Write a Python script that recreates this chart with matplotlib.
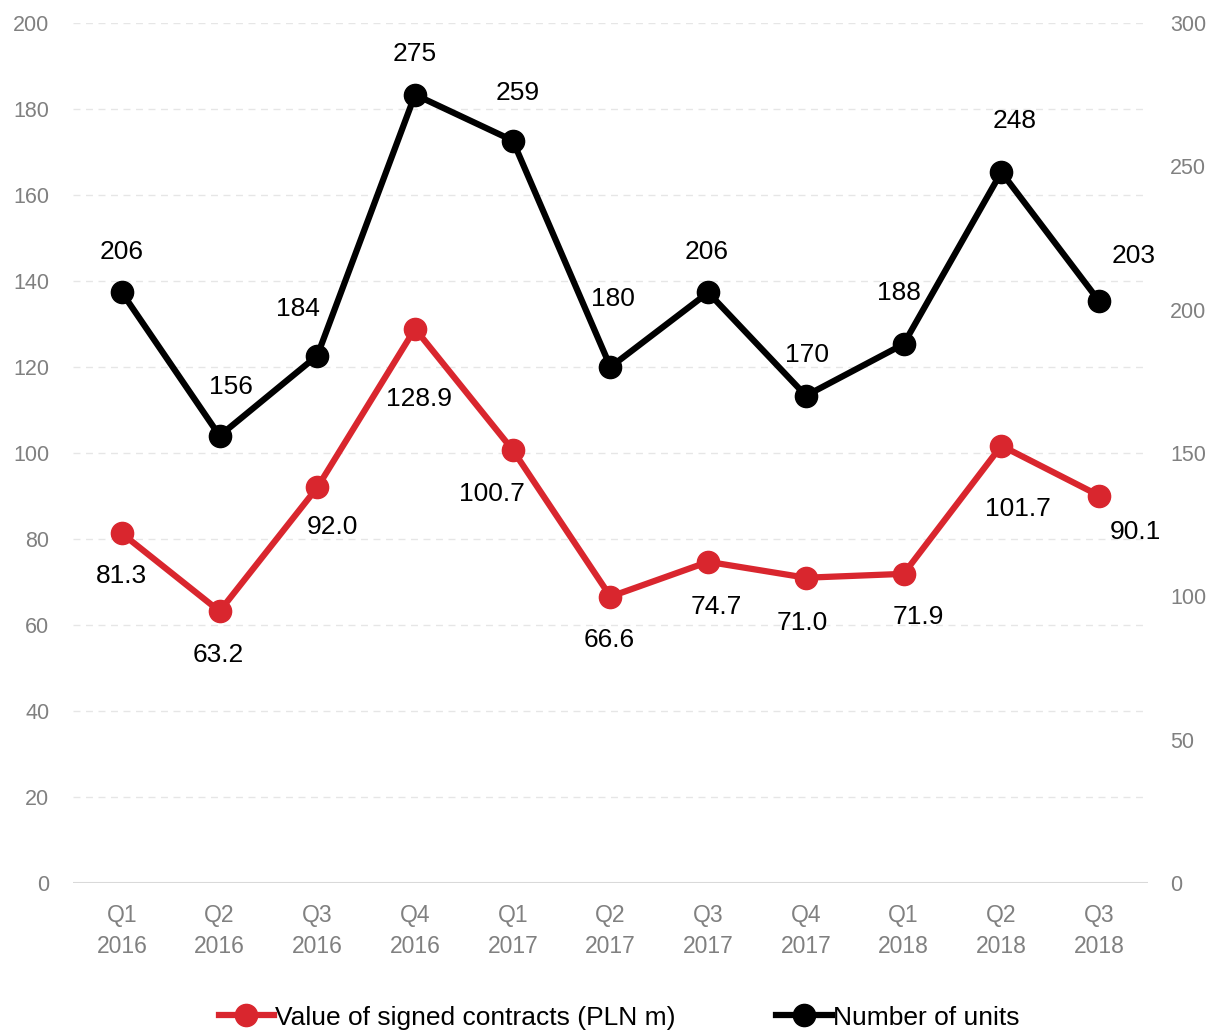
import matplotlib
matplotlib.use('Agg')
import matplotlib.pyplot as plt
from matplotlib.ticker import MultipleLocator

plt.rcParams['font.family'] = ['Liberation Sans', 'DejaVu Sans']

quarters = ['Q1\n2016', 'Q2\n2016', 'Q3\n2016', 'Q4\n2016', 'Q1\n2017', 'Q2\n2017',
            'Q3\n2017', 'Q4\n2017', 'Q1\n2018', 'Q2\n2018', 'Q3\n2018']
contract_value = [81.3, 63.2, 92.0, 128.9, 100.7, 66.6, 74.7, 71.0, 71.9, 101.7, 90.1]
units = [206, 156, 184, 275, 259, 180, 206, 170, 188, 248, 203]

# label offsets in pixels (dx, dy), dy positive = up
units_off = [(0, 40), (11, 49), (-19, 47), (0, 41), (5, 48), (2, 68),
             (-2, 40), (1, 41), (-5, 51), (13, 51), (35, 45)]
value_off = [(0, -43), (-1, -44), (15, -40), (4, -70), (-21, -44), (-1, -43),
             (8, -45), (-4, -45), (15, -43), (17, -63), (36, -36)]

red = '#d9262e'
grey = '#808080'

fig = plt.figure(figsize=(12.09, 10.33), dpi=100)
ax = fig.add_axes([0.0604, 0.1452, 0.8891, 0.8325])
ax2 = ax.twinx()

x = range(len(quarters))
ax.plot(x, contract_value, color=red, lw=4.5, marker='o', ms=16, zorder=3,
        label='Value of signed contracts (PLN m)')
ax2.plot(x, units, color='black', lw=4.5, marker='o', ms=16, zorder=3,
         label='Number of units')

ax.set_xlim(-0.5, len(quarters) - 0.5)
ax.set_ylim(0, 200)
ax2.set_ylim(0, 300)
ax.yaxis.set_major_locator(MultipleLocator(20))
ax2.yaxis.set_major_locator(MultipleLocator(50))
ax.set_xticks(list(x))
ax.set_xticklabels(quarters)

ax.grid(axis='y', color='#e6e6e6', ls=(0, (5, 4)), lw=1)
ax.set_axisbelow(True)
for a in (ax, ax2):
    for s in a.spines.values():
        s.set_visible(False)
    a.tick_params(length=0, colors=grey, labelsize=15.5)
ax.tick_params(axis='y', pad=17)
ax2.tick_params(axis='y', pad=16)
ax.tick_params(axis='x', pad=15, labelsize=16.5)
for lbl in ax.get_xticklabels():
    lbl.set_linespacing(1.45)
ax.axhline(0, color='#d9d9d9', lw=1.5, zorder=1)

for i, v in enumerate(units):
    dx, dy = units_off[i]
    ax2.annotate(str(v), (i, v), xytext=(dx * 0.72, dy * 0.72), textcoords='offset points',
                 ha='center', va='center', fontsize=19, color='black')
for i, v in enumerate(contract_value):
    dx, dy = value_off[i]
    ax.annotate(f'{v:.1f}', (i, v), xytext=(dx * 0.72, dy * 0.72), textcoords='offset points',
                ha='center', va='center', fontsize=19, color='black')

h1, l1 = ax.get_legend_handles_labels()
h2, l2 = ax2.get_legend_handles_labels()
fig.legend(h1 + h2, l1 + l2, loc='center', bbox_to_anchor=(0.512, 0.015), ncol=2,
           frameon=False, fontsize=19, handlelength=2.1, handletextpad=0.05,
           columnspacing=3.8, borderpad=0)

fig.savefig('out.png', dpi=100)
